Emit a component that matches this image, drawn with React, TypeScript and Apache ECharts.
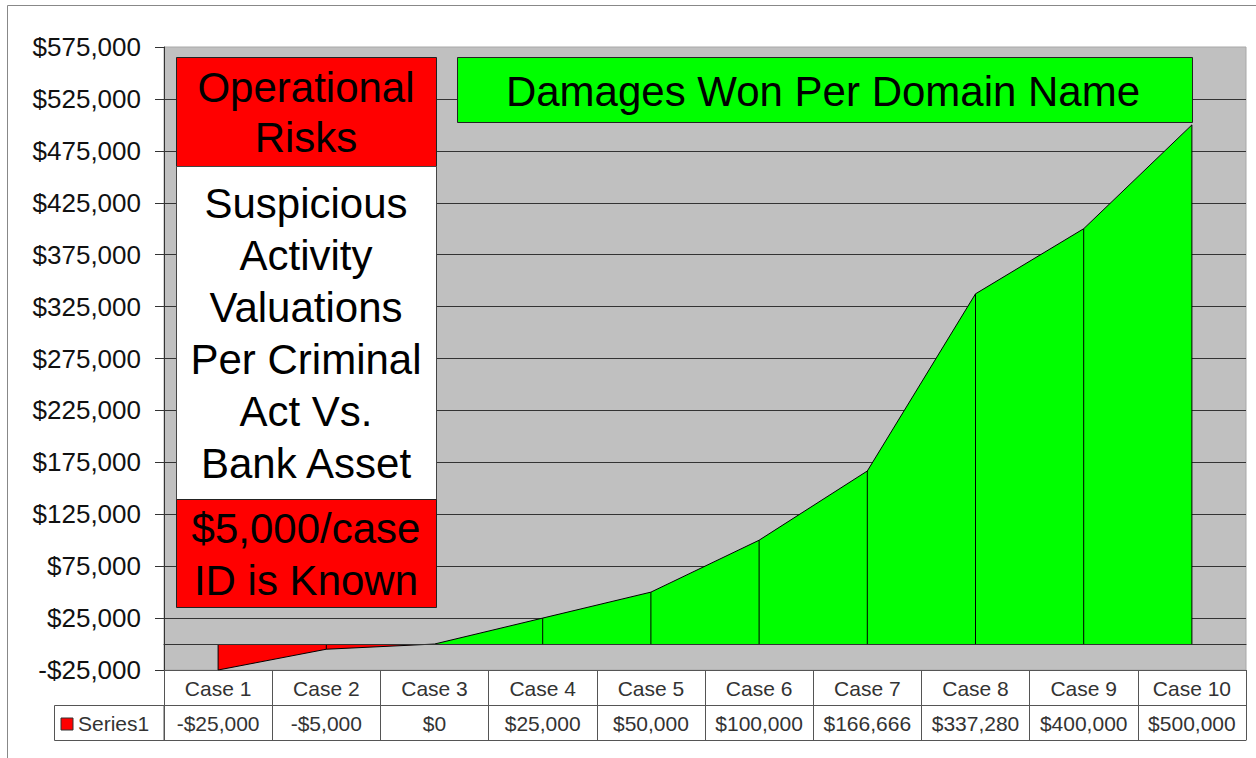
import React, { useEffect, useRef } from "react";
import * as echarts from "echarts";

const categories = ["Case 1", "Case 2", "Case 3", "Case 4", "Case 5", "Case 6", "Case 7", "Case 8", "Case 9", "Case 10"];
const damages = [-25000, -5000, 0, 25000, 50000, 100000, 166666, 337280, 400000, 500000];
const yMin = -25000;
const yMax = 575000;
const yStep = 50000;
const seriesName = "Series1";
const riskTitle = "Operational\nRisks";
const riskBody = "Suspicious\nActivity\nValuations\nPer Criminal\nAct Vs.\nBank Asset";
const riskFoot = "$5,000/case\nID is Known";
const damagesTitle = "Damages Won Per Domain Name";

const FONT = "'Liberation Sans', Arial, sans-serif";

const fmt = (v: number) => (v < 0 ? "-" : "") + "$" + Math.abs(v).toLocaleString("en-US");

export default function App() {
  const ref = useRef<HTMLDivElement>(null);
  useEffect(() => {
    if (!ref.current) return;
    const chart = echarts.init(ref.current, null, { renderer: "svg" });
    const tableLine = "#555";
    const tableText = "#333";
    const tableFont = 21;
    chart.setOption({
      animation: false,
      backgroundColor: "#fff",
      grid: {
        left: 164,
        right: 10,
        top: 47,
        bottom: 88,
        show: true,
        backgroundColor: "#c0c0c0",
        borderColor: "#a8a8a8",
        borderWidth: 1,
      },
      visualMap: {
        type: "piecewise",
        show: false,
        dimension: 1,
        seriesIndex: 0,
        pieces: [
          { gte: yMin, lt: 0, color: "#ff0000" },
          { gte: 0, lte: yMax, color: "#00ff00" },
        ],
        outOfRange: { color: "#00ff00" },
      },
      xAxis: [
        {
          type: "category",
          data: categories,
          boundaryGap: true,
          position: "bottom",
          axisLine: { show: true, onZero: true, lineStyle: { color: "#333", width: 1 } },
          axisTick: { show: false },
          axisLabel: { show: false },
          splitLine: { show: false },
          z: 3,
        },
        {
          type: "category",
          data: categories,
          boundaryGap: true,
          position: "bottom",
          offset: 0,
          axisLine: { show: true, onZero: false, lineStyle: { color: tableLine, width: 1 } },
          axisTick: { show: true, inside: false, length: 35, interval: 0, lineStyle: { color: tableLine, width: 1 } },
          axisLabel: {
            interval: 0,
            margin: 18,
            verticalAlign: "middle",
            color: tableText,
            fontSize: tableFont,
            fontFamily: FONT,
          },
        },
        {
          type: "category",
          data: categories,
          boundaryGap: true,
          position: "bottom",
          offset: 35,
          axisLine: { show: true, onZero: false, lineStyle: { color: tableLine, width: 1 } },
          axisTick: { show: true, inside: false, length: 35, interval: 0, lineStyle: { color: tableLine, width: 1 } },
          axisLabel: {
            interval: 0,
            margin: 18,
            verticalAlign: "middle",
            color: tableText,
            fontSize: tableFont,
            fontFamily: FONT,
            formatter: (_v: string, idx: number) => fmt(damages[idx]),
          },
        },
        {
          type: "category",
          data: categories,
          boundaryGap: true,
          position: "bottom",
          offset: 70,
          axisLine: { show: true, onZero: false, lineStyle: { color: tableLine, width: 1 } },
          axisTick: { show: false },
          axisLabel: { show: false },
        },
      ],
      yAxis: {
        type: "value",
        min: yMin,
        max: yMax,
        interval: yStep,
        axisLine: { show: true, lineStyle: { color: "#333", width: 1 } },
        axisTick: { show: true, length: 9, lineStyle: { color: "#333" } },
        axisLabel: {
          formatter: (v: number) => fmt(v),
          margin: 23,
          color: "#111",
          fontSize: 26,
          fontFamily: FONT,
        },
        splitLine: { show: true, showMaxLine: false, lineStyle: { color: "#333", width: 1 } },
      },
      series: [
        {
          name: seriesName,
          type: "line",
          data: damages,
          showSymbol: false,
          symbol: "none",
          lineStyle: { color: "#000", width: 1 },
          areaStyle: { opacity: 1 },
          z: 2,
        },
        {
          type: "custom",
          xAxisIndex: 0,
          yAxisIndex: 0,
          data: damages.map((v, i) => [i, v]),
          renderItem: (_params: any, api: any) => {
            const i = api.value(0);
            const v = api.value(1);
            const p1 = api.coord([i, v]);
            const p0 = api.coord([i, 0]);
            return {
              type: "line",
              shape: { x1: p0[0], y1: p0[1], x2: p1[0], y2: p1[1] },
              style: { stroke: "#000", lineWidth: 1 },
            };
          },
          z: 3,
        },
      ],
      graphic: [
        {
          type: "rect",
          z: 1,
          shape: { x: 7.5, y: 5.5, width: 1400, height: 900 },
          style: { fill: "none", stroke: "#888", lineWidth: 1 },
          silent: true,
        },
        {
          type: "rect",
          z: 100,
          shape: { x: 54.5, y: 705.5, width: 109.5, height: 35 },
          style: { fill: "#fff", stroke: tableLine, lineWidth: 1 },
        },
        {
          type: "rect",
          z: 101,
          shape: { x: 61, y: 718, width: 12, height: 12 },
          style: { fill: "#ff0000", stroke: "#333", lineWidth: 1 },
        },
        {
          type: "text",
          z: 101,
          style: {
            text: seriesName,
            x: 78,
            y: 723,
            verticalAlign: "middle",
            align: "left",
            fill: tableText,
            font: `${tableFont}px ${FONT}`,
          },
        },
        {
          type: "rect",
          z: 100,
          shape: { x: 176.5, y: 57.5, width: 260, height: 109 },
          style: { fill: "#ff0000", stroke: "#222", lineWidth: 1 },
        },
        {
          type: "text",
          z: 101,
          style: {
            text: riskTitle,
            x: 306,
            y: 112,
            align: "center",
            verticalAlign: "middle",
            fill: "#000",
            font: `42px ${FONT}`,
            lineHeight: 50,
          },
        },
        {
          type: "rect",
          z: 100,
          shape: { x: 176.5, y: 166.5, width: 260, height: 333 },
          style: { fill: "#ffffff", stroke: "#444", lineWidth: 1 },
        },
        {
          type: "text",
          z: 101,
          style: {
            text: riskBody,
            x: 306,
            y: 333,
            align: "center",
            verticalAlign: "middle",
            fill: "#000",
            font: `42px ${FONT}`,
            lineHeight: 52,
          },
        },
        {
          type: "rect",
          z: 100,
          shape: { x: 176.5, y: 499.5, width: 260, height: 108 },
          style: { fill: "#ff0000", stroke: "#222", lineWidth: 1 },
        },
        {
          type: "text",
          z: 101,
          style: {
            text: riskFoot,
            x: 306,
            y: 554,
            align: "center",
            verticalAlign: "middle",
            fill: "#000",
            font: `42px ${FONT}`,
            lineHeight: 52,
          },
        },
        {
          type: "rect",
          z: 100,
          shape: { x: 457.5, y: 57.5, width: 735, height: 65 },
          style: { fill: "#00ff00", stroke: "#222", lineWidth: 1 },
        },
        {
          type: "text",
          z: 101,
          style: {
            text: damagesTitle,
            x: 823,
            y: 91,
            align: "center",
            verticalAlign: "middle",
            fill: "#000",
            font: `42px ${FONT}`,
          },
        },
      ],
    });
    return () => chart.dispose();
  }, []);
  return (
    <div
      ref={ref}
      style={{ position: "fixed", left: 0, top: 0, width: 1256, height: 758, background: "#fff" }}
    />
  );
}
